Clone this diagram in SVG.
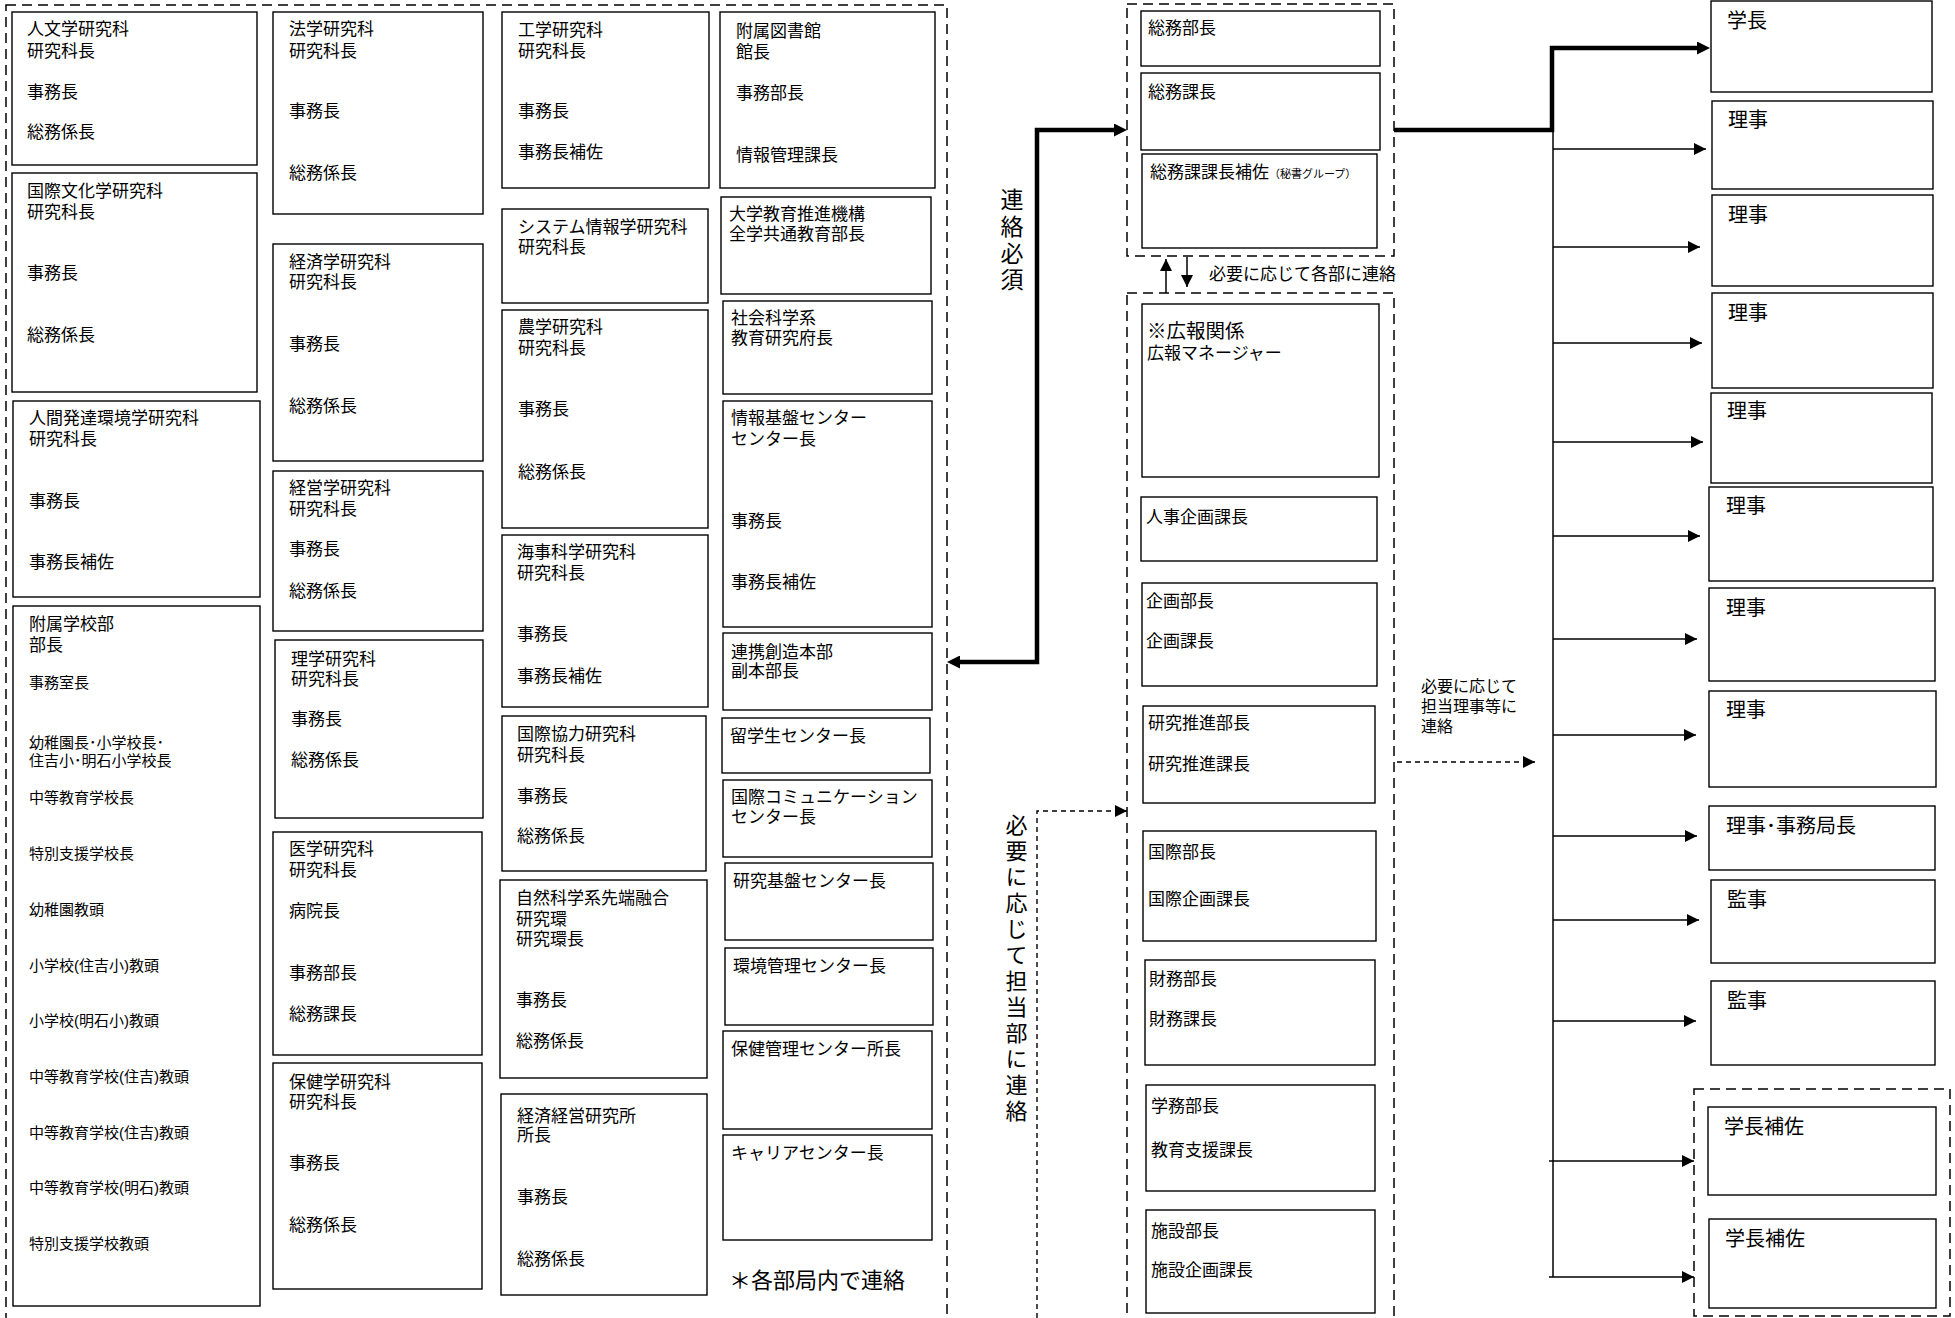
<svg xmlns="http://www.w3.org/2000/svg" width="1955" height="1318" viewBox="0 0 1955 1318">
<style>
.b{fill:#fff;stroke:#000;stroke-width:1.4}
.d{fill:none;stroke:#000;stroke-width:1.5;stroke-dasharray:10 6}
text{font-family:"Liberation Sans","Noto Sans CJK JP",sans-serif;font-size:17px;fill:#000}
.s{font-size:15px}
.l{font-size:20px}
.m{font-size:19.5px}
.n{font-size:16px}
.x{font-size:11px}
.v{font-size:23px;writing-mode:vertical-rl}
.c{fill:none;stroke:#000;stroke-width:1.5}
.k{fill:none;stroke:#000;stroke-width:4.5}
.q{fill:none;stroke:#000;stroke-width:1.4;stroke-dasharray:5 4}
</style>
<defs>
<marker id="a" viewBox="0 0 12 12" refX="12" refY="6" markerWidth="12" markerHeight="12" markerUnits="userSpaceOnUse" orient="auto-start-reverse"><path d="M0,0 L12,6 L0,12 z" fill="#000"/></marker>
<marker id="ak" viewBox="0 0 13 13" refX="3" refY="6.5" markerWidth="13" markerHeight="13" markerUnits="userSpaceOnUse" orient="auto-start-reverse"><path d="M0,0 L13,6.5 L0,13 z" fill="#000"/></marker>
</defs>
<rect width="1955" height="1318" fill="#fff"/>

<g id="groups">
<rect class="d" x="6" y="5" width="941" height="1318"/>
<rect class="d" x="1127" y="4" width="267" height="252"/>
<rect class="d" x="1127" y="293" width="267" height="1035"/>
<rect class="d" x="1694" y="1089" width="256" height="227"/>
</g>

<g id="connectors">
<path class="k" d="M957,662 H1037 V130 H1117" marker-start="url(#ak)" marker-end="url(#ak)"/>
<path class="k" d="M1394,130 H1552 V48 H1700" marker-end="url(#ak)"/>
<path class="c" d="M1553,130 V1277"/>
<path class="c" d="M1553,149 H1706" marker-end="url(#a)"/>
<path class="c" d="M1553,247 H1700" marker-end="url(#a)"/>
<path class="c" d="M1553,343 H1702" marker-end="url(#a)"/>
<path class="c" d="M1553,442 H1703" marker-end="url(#a)"/>
<path class="c" d="M1553,536 H1700" marker-end="url(#a)"/>
<path class="c" d="M1553,639 H1697" marker-end="url(#a)"/>
<path class="c" d="M1553,735 H1696" marker-end="url(#a)"/>
<path class="c" d="M1553,836 H1697" marker-end="url(#a)"/>
<path class="c" d="M1553,920 H1699" marker-end="url(#a)"/>
<path class="c" d="M1553,1021 H1696" marker-end="url(#a)"/>
<path class="c" d="M1549,1161 H1694" marker-end="url(#a)"/>
<path class="c" d="M1549,1277 H1694" marker-end="url(#a)"/>
<path class="c" d="M1166,293 V259" marker-end="url(#a)"/>
<path class="c" d="M1187,257 V287" marker-end="url(#a)"/>
<path class="q" d="M1037,1318 V811 H1127" marker-end="url(#a)"/>
<path class="q" d="M1397,762 H1535" marker-end="url(#a)"/>
<text class="v" x="1010" y="188" style="letter-spacing:3.7px">連絡必須</text>
<text class="v" x="1014" y="814" style="letter-spacing:4px;font-size:22px">必要に応じて担当部に連絡</text>
<text x="1209" y="280">必要に応じて各部に連絡</text>
<text class="n" x="1421" y="692">必要に応じて</text>
<text class="n" x="1421" y="712">担当理事等に</text>
<text class="n" x="1421" y="732">連絡</text>
</g>

<g id="n-jinbun"><rect class="b" x="12" y="12" width="245" height="153"/><text x="27" y="35">人文学研究科</text><text x="27" y="57">研究科長</text><text x="27" y="98">事務長</text><text x="27" y="138">総務係長</text></g>
<g id="n-kokusaibunka"><rect class="b" x="12" y="173" width="245" height="219"/><text x="27" y="197">国際文化学研究科</text><text x="27" y="218">研究科長</text><text x="27" y="279">事務長</text><text x="27" y="341">総務係長</text></g>
<g id="n-ningen"><rect class="b" x="13" y="401" width="247" height="196"/><text x="29" y="424">人間発達環境学研究科</text><text x="29" y="445">研究科長</text><text x="29" y="507">事務長</text><text x="29" y="568">事務長補佐</text></g>
<g id="n-fuzoku"><rect class="b" x="13" y="606" width="247" height="700"/><text x="29" y="630">附属学校部</text><text x="29" y="651">部長</text>
<text class="s" x="29" y="688">事務室長</text><text class="s" x="29" y="748">幼稚園長･小学校長･</text><text class="s" x="29" y="766">住吉小･明石小学校長</text><text class="s" x="29" y="803">中等教育学校長</text><text class="s" x="29" y="859">特別支援学校長</text><text class="s" x="29" y="915">幼稚園教頭</text><text class="s" x="29" y="971">小学校(住吉小)教頭</text><text class="s" x="29" y="1026">小学校(明石小)教頭</text><text class="s" x="29" y="1082">中等教育学校(住吉)教頭</text><text class="s" x="29" y="1138">中等教育学校(住吉)教頭</text><text class="s" x="29" y="1193">中等教育学校(明石)教頭</text><text class="s" x="29" y="1249">特別支援学校教頭</text></g>

<g id="n-hougaku"><rect class="b" x="273" y="12" width="210" height="202"/><text x="289" y="35">法学研究科</text><text x="289" y="57">研究科長</text><text x="289" y="117">事務長</text><text x="289" y="179">総務係長</text></g>
<g id="n-keizai"><rect class="b" x="273" y="244" width="210" height="217"/><text x="289" y="268">経済学研究科</text><text x="289" y="288">研究科長</text><text x="289" y="350">事務長</text><text x="289" y="412">総務係長</text></g>
<g id="n-keiei"><rect class="b" x="273" y="471" width="210" height="160"/><text x="289" y="494">経営学研究科</text><text x="289" y="515">研究科長</text><text x="289" y="555">事務長</text><text x="289" y="597">総務係長</text></g>
<g id="n-rigaku"><rect class="b" x="275" y="640" width="208" height="178"/><text x="291" y="665">理学研究科</text><text x="291" y="685">研究科長</text><text x="291" y="725">事務長</text><text x="291" y="766">総務係長</text></g>
<g id="n-igaku"><rect class="b" x="273" y="832" width="209" height="223"/><text x="289" y="855">医学研究科</text><text x="289" y="876">研究科長</text><text x="289" y="917">病院長</text><text x="289" y="979">事務部長</text><text x="289" y="1020">総務課長</text></g>
<g id="n-hoken"><rect class="b" x="273" y="1063" width="209" height="226"/><text x="289" y="1088">保健学研究科</text><text x="289" y="1108">研究科長</text><text x="289" y="1169">事務長</text><text x="289" y="1231">総務係長</text></g>

<g id="n-kougaku"><rect class="b" x="502" y="12" width="207" height="176"/><text x="518" y="36">工学研究科</text><text x="518" y="57">研究科長</text><text x="518" y="117">事務長</text><text x="518" y="158">事務長補佐</text></g>
<g id="n-system"><rect class="b" x="502" y="209" width="206" height="94"/><text x="518" y="233">システム情報学研究科</text><text x="518" y="253">研究科長</text></g>
<g id="n-nougaku"><rect class="b" x="502" y="310" width="206" height="218"/><text x="518" y="333">農学研究科</text><text x="518" y="354">研究科長</text><text x="518" y="415">事務長</text><text x="518" y="478">総務係長</text></g>
<g id="n-kaiji"><rect class="b" x="502" y="535" width="206" height="172"/><text x="517" y="558">海事科学研究科</text><text x="517" y="579">研究科長</text><text x="517" y="640">事務長</text><text x="517" y="682">事務長補佐</text></g>
<g id="n-kyouryoku"><rect class="b" x="502" y="716" width="204" height="155"/><text x="517" y="740">国際協力研究科</text><text x="517" y="761">研究科長</text><text x="517" y="802">事務長</text><text x="517" y="842">総務係長</text></g>
<g id="n-sentan"><rect class="b" x="500" y="880" width="207" height="198"/><text x="516" y="904">自然科学系先端融合</text><text x="516" y="925">研究環</text><text x="516" y="945">研究環長</text><text x="516" y="1006">事務長</text><text x="516" y="1047">総務係長</text></g>
<g id="n-rieb"><rect class="b" x="501" y="1094" width="206" height="201"/><text x="517" y="1122">経済経営研究所</text><text x="517" y="1141">所長</text><text x="517" y="1203">事務長</text><text x="517" y="1265">総務係長</text></g>

<g id="n-library"><rect class="b" x="720" y="12" width="215" height="176"/><text x="736" y="37">附属図書館</text><text x="736" y="58">館長</text><text x="736" y="99">事務部長</text><text x="736" y="161">情報管理課長</text></g>
<g id="n-daigaku"><rect class="b" x="721" y="197" width="210" height="97"/><text x="729" y="220">大学教育推進機構</text><text x="729" y="240">全学共通教育部長</text></g>
<g id="n-shakai"><rect class="b" x="723" y="301" width="209" height="93"/><text x="731" y="324">社会科学系</text><text x="731" y="344">教育研究府長</text></g>
<g id="n-jouhou"><rect class="b" x="723" y="401" width="209" height="226"/><text x="731" y="424">情報基盤センター</text><text x="731" y="445">センター長</text><text x="731" y="527">事務長</text><text x="731" y="588">事務長補佐</text></g>
<g id="n-renkei"><rect class="b" x="723" y="633" width="209" height="77"/><text x="731" y="658">連携創造本部</text><text x="731" y="677">副本部長</text></g>
<g id="n-ryugaku"><rect class="b" x="722" y="718" width="208" height="55"/><text x="730" y="742">留学生センター長</text></g>
<g id="n-comm"><rect class="b" x="723" y="780" width="209" height="77"/><text x="731" y="803">国際コミュニケーション</text><text x="731" y="823">センター長</text></g>
<g id="n-kenkyukiban"><rect class="b" x="725" y="863" width="208" height="77"/><text x="733" y="887">研究基盤センター長</text></g>
<g id="n-kankyo"><rect class="b" x="725" y="948" width="208" height="77"/><text x="733" y="972">環境管理センター長</text></g>
<g id="n-hokenkanri"><rect class="b" x="723" y="1031" width="209" height="98"/><text x="731" y="1055">保健管理センター所長</text></g>
<g id="n-career"><rect class="b" x="723" y="1135" width="209" height="105"/><text x="731" y="1159">キャリアセンター長</text></g>
<g id="note"><text x="729" y="1288" style="font-size:22px">＊各部局内で連絡</text></g>

<g id="n-soumubu"><rect class="b" x="1141" y="11" width="239" height="55"/><text x="1148" y="34">総務部長</text></g>
<g id="n-soumuka"><rect class="b" x="1141" y="73" width="239" height="77"/><text x="1148" y="98">総務課長</text></g>
<g id="n-hisho"><rect class="b" x="1142" y="154" width="235" height="94"/><text x="1150" y="178">総務課課長補佐<tspan class="x">（秘書グループ）</tspan></text></g>
<g id="n-kouhou"><rect class="b" x="1142" y="304" width="237" height="173"/><text class="m" x="1147" y="338">※広報関係</text><text x="1147" y="359">広報マネージャー</text></g>
<g id="n-jinji"><rect class="b" x="1141" y="497" width="236" height="64"/><text x="1146" y="523">人事企画課長</text></g>
<g id="n-kikaku"><rect class="b" x="1142" y="583" width="235" height="103"/><text x="1146" y="607">企画部長</text><text x="1146" y="647">企画課長</text></g>
<g id="n-kenkyu"><rect class="b" x="1143" y="706" width="232" height="97"/><text x="1148" y="729">研究推進部長</text><text x="1148" y="770">研究推進課長</text></g>
<g id="n-kokusai"><rect class="b" x="1143" y="831" width="233" height="110"/><text x="1148" y="858">国際部長</text><text x="1148" y="905">国際企画課長</text></g>
<g id="n-zaimu"><rect class="b" x="1145" y="960" width="230" height="105"/><text x="1149" y="985">財務部長</text><text x="1149" y="1025">財務課長</text></g>
<g id="n-gakumu"><rect class="b" x="1146" y="1085" width="229" height="106"/><text x="1151" y="1112">学務部長</text><text x="1151" y="1156">教育支援課長</text></g>
<g id="n-shisetsu"><rect class="b" x="1146" y="1210" width="229" height="103"/><text x="1151" y="1237">施設部長</text><text x="1151" y="1276">施設企画課長</text></g>

<g id="n-gakucho"><rect class="b" x="1711" y="1" width="221" height="91"/><text class="l" x="1727" y="28">学長</text></g>
<g id="n-riji1"><rect class="b" x="1712" y="101" width="221" height="88"/><text class="l" x="1728" y="127">理事</text></g>
<g id="n-riji2"><rect class="b" x="1712" y="195" width="221" height="91"/><text class="l" x="1728" y="222">理事</text></g>
<g id="n-riji3"><rect class="b" x="1712" y="293" width="221" height="95"/><text class="l" x="1728" y="320">理事</text></g>
<g id="n-riji4"><rect class="b" x="1711" y="393" width="221" height="90"/><text class="l" x="1727" y="418">理事</text></g>
<g id="n-riji5"><rect class="b" x="1709" y="487" width="224" height="94"/><text class="l" x="1726" y="513">理事</text></g>
<g id="n-riji6"><rect class="b" x="1709" y="588" width="226" height="93"/><text class="l" x="1726" y="615">理事</text></g>
<g id="n-riji7"><rect class="b" x="1709" y="691" width="227" height="96"/><text class="l" x="1726" y="717">理事</text></g>
<g id="n-jimukyoku"><rect class="b" x="1709" y="806" width="226" height="64"/><text class="l" x="1726" y="833">理事･事務局長</text></g>
<g id="n-kanji1"><rect class="b" x="1711" y="880" width="224" height="83"/><text class="l" x="1727" y="907">監事</text></g>
<g id="n-kanji2"><rect class="b" x="1711" y="981" width="224" height="84"/><text class="l" x="1727" y="1008">監事</text></g>
<g id="n-hosa1"><rect class="b" x="1708" y="1107" width="228" height="88"/><text class="l" x="1724" y="1134">学長補佐</text></g>
<g id="n-hosa2"><rect class="b" x="1709" y="1219" width="227" height="89"/><text class="l" x="1725" y="1246">学長補佐</text></g>
</svg>
